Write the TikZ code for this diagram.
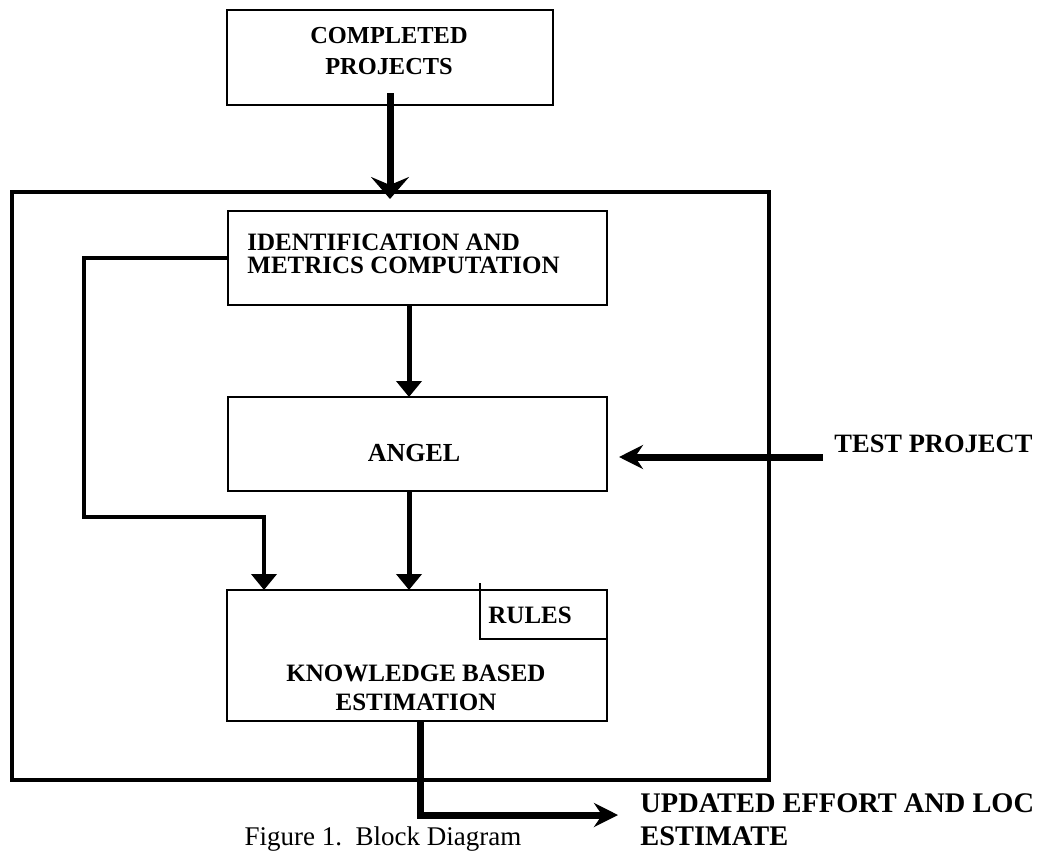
\documentclass[tikz,border=0pt]{standalone}
\usepackage{fontspec}
\setmainfont{Liberation Serif}
\usetikzlibrary{arrows.meta}

\begin{document}
\begin{tikzpicture}[x=0.5pt, y=-0.5pt,
		box/.style={draw, line width=1pt, inner sep=0pt, outer sep=0pt, anchor=north west},
		lbl/.style={font=\bfseries\fontsize{12.5}{14.5}\selectfont, inner sep=0pt, align=center},
		arr/.style={line width=2.5pt, -{Triangle[length=8pt,width=12.5pt]}},
		fat/.style={line width=3.5pt, line join=miter, -{Stealth[length=12pt,width=12pt,inset=4pt]}}]
			%%%%% START %%%%%
			\useasboundingbox (0,0) rectangle (1043,851);
			
			\node[box, minimum width=163pt, minimum height=47.5pt] (cp) at (227,10) {};
			\node[box, line width=2.2pt, minimum width=378.5pt, minimum height=294pt] (sys) at (12,192) {};
			\node[box, minimum width=189.5pt, minimum height=47pt] (idc) at (228,211) {};
			\node[box, minimum width=189.5pt, minimum height=47pt] (ang) at (228,397) {};
			\node[box, minimum width=190pt, minimum height=65.5pt] (kbe) at (227,590) {};
			\node[box, line width=0.6pt, minimum width=63.5pt, minimum height=24.5pt] (rul) at (480,590) {};
			\draw[line width=0.6pt] (rul.north west) -- ++(0,-7);
			
			\node[lbl, font=\bfseries\fontsize{12.2}{15.5}\selectfont] (cpt) at (389,51) {COMPLETED\\PROJECTS};
			\node[lbl, align=left, anchor=west, font=\bfseries\fontsize{12.5}{11.75}\selectfont] (idt) at (247,254) {IDENTIFICATION AND\\METRICS COMPUTATION};
			\node[lbl, font=\bfseries\fontsize{13}{13}\selectfont] (angt) at (414,453) {ANGEL};
			\node[lbl, anchor=west] (rult) at (488,615) {RULES};
			\node[lbl] (kbet) at (416,688) {KNOWLEDGE BASED\\ESTIMATION};
			\node[lbl, anchor=west, font=\bfseries\fontsize{13.25}{13.25}\selectfont] (tpt) at (834,444) {TEST PROJECT};
			\node[lbl, align=left, anchor=west, font=\bfseries\fontsize{14.2}{16.5}\selectfont] (upd) at (640,820) {UPDATED EFFORT AND LOC\\ESTIMATE};
			\node[inner sep=0pt, font=\fontsize{13.5}{13.5}\selectfont] (cap) at (383,839) {Figure 1.\ \ Block Diagram};
			
			\coordinate (cpo) at (390,93);
			\coordinate (xa) at (409,0);
			\coordinate (fb) at (84,517);
			\coordinate (fx) at (264,0);
			\coordinate (tpo) at (823,457);
			\coordinate (oc) at (420,815);
			\coordinate (oend) at (618,815);
			
			\draw[fat, -{Stealth[length=11pt,width=19pt,inset=4pt]}, shorten >=-3.5pt] (cpo) -- (cpo |- sys.north);
			\draw[arr] (idc.south -| xa) -- (ang.north -| xa);
			\draw[arr] (ang.south -| xa) -- (kbe.north -| xa);
			\draw[arr, line width=2.2pt] (idc.west) -| (fb) -| (kbe.north -| fx);
			\draw[fat, shorten >=6pt] (tpo) -- (ang.east |- tpo);
			\draw[fat] (kbe.south -| oc) -- (oc) -- (oend);
			%%%%% END %%%%%
\end{tikzpicture}
\end{document}
